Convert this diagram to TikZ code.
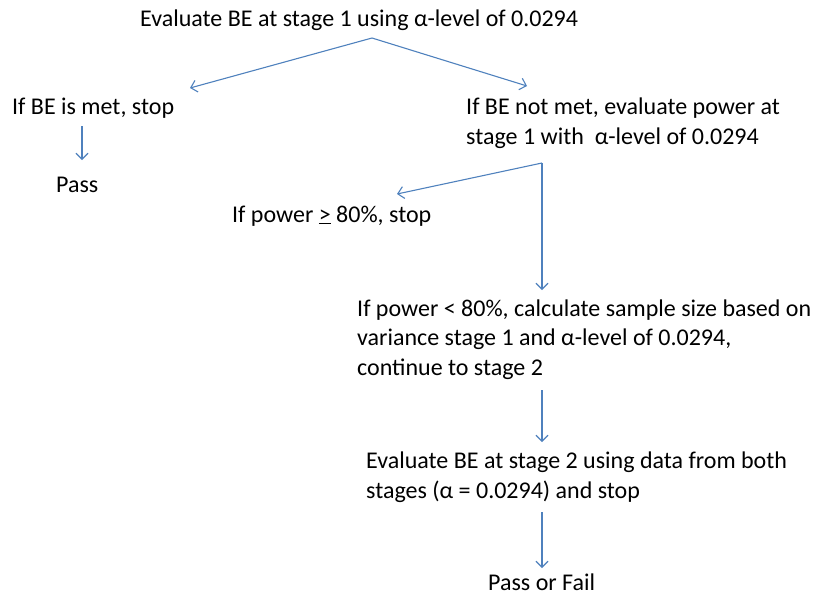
\documentclass[tikz,border=0pt]{standalone}
\usepackage{fontspec}
\setmainfont{Carlito}
\usetikzlibrary{arrows.meta}
\definecolor{flowblue}{RGB}{79,129,189}

\tikzset{
  txt/.style = {inner sep=0pt, anchor=base west, align=left,
                font=\fontsize{24}{29.5}\selectfont},
  link/.style = {draw=flowblue, line width=1.1pt,
                 -{Straight Barb[length=6pt,width=12pt]}}
}

\begin{document}
\begin{tikzpicture}[x=1pt,y=-1pt]
  \useasboundingbox (0,0) rectangle (817,595);

  % stage 1 (base = last line)
  \node[txt] (evalone) at (140,26) {Evaluate BE at stage 1 using α-level of 0.0294};
  \node[txt] (met) at (12,114) {If BE is met, stop};
  \node[txt] (notmet) at (466,144) {If BE not met, evaluate power at\\stage 1 with \ α-level of 0.0294};
  \node[txt] (pass) at (56,192) {Pass};

  % power check
  \node[txt] (powhigh) at (232,222) {If power \underline{>} 80\%, stop};
  \node[txt] (powlow) at (357,375) {If power < 80\%, calculate sample size based on\\variance stage 1 and α-level of 0.0294,\\continue to stage 2};

  % stage 2
  \node[txt] (evaltwo) at (366,498) {Evaluate BE at stage 2 using data from both\\stages (α = 0.0294) and stop};
  \node[txt] (result) at (488,590) {Pass or Fail};

  % arrow ends
  \coordinate (split) at (372,38);
  \coordinate (metin) at (190,88);
  \coordinate (notmetin) at (527,86);
  \coordinate (metout) at (82,126);
  \coordinate (passin) at (82,160);
  \coordinate (fork) at (542,163);
  \coordinate (highin) at (397,194);
  \coordinate (lowin) at (542,290);
  \coordinate (lowout) at (542,390);
  \coordinate (twoin) at (542,442);
  \coordinate (twoout) at (542,512);
  \coordinate (resin) at (542,568);

  \draw[link] (split) -- (metin);
  \draw[link] (split) -- (notmetin);
  \draw[link] (metout) -- (passin);
  \draw[link] (fork) -- (highin);
  \draw[link] (fork) -- (lowin);
  \draw[link] (lowout) -- (twoin);
  \draw[link] (twoout) -- (resin);
\end{tikzpicture}
\end{document}
